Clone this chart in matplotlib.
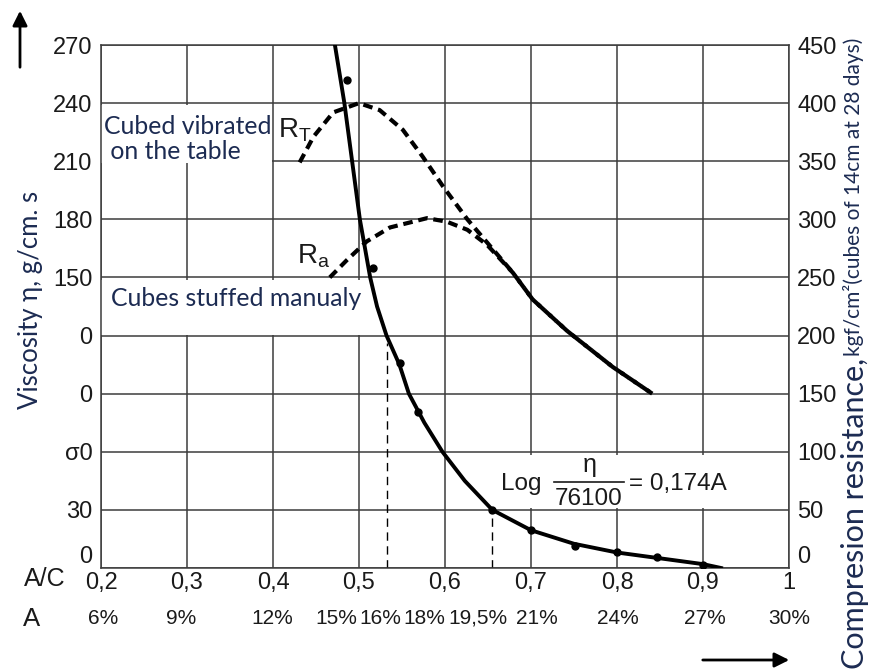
import matplotlib.pyplot as plt
from matplotlib.patches import Rectangle
from matplotlib.lines import Line2D

# viscosity curve (left axis, eta in g/cm.s) vs A/C
curve_ac = [0.472, 0.483, 0.492, 0.501, 0.507, 0.513, 0.521, 0.532, 0.547, 0.558,
            0.576, 0.597, 0.623, 0.655, 0.700, 0.750, 0.800, 0.850, 0.900, 0.921]
curve_eta = [270, 240, 210, 180, 165, 150, 135, 120, 105, 90,
             75, 60, 45, 30, 19.5, 12.5, 8, 5, 2, 0]

# measured points on the viscosity curve
pts_ac = [0.486, 0.516, 0.548, 0.569, 0.655, 0.700, 0.751, 0.800, 0.846, 0.900]
pts_eta = [252, 155, 106, 80.5, 30, 19.6, 11.4, 8.3, 5.7, 1.5]

# compression resistance (right axis, kgf/cm2)
rt_ac = [0.431, 0.447, 0.470, 0.500, 0.524, 0.551, 0.574, 0.598, 0.626,
         0.649, 0.679, 0.702, 0.742, 0.795, 0.841]
rt_val = [349, 371, 392, 400, 394, 377, 354, 328, 300,
          280, 254, 231, 204, 173, 150]
ra_ac = [0.466, 0.486, 0.509, 0.536, 0.579, 0.602, 0.626, 0.649, 0.679,
         0.702, 0.742, 0.795, 0.841]
ra_val = [250, 265, 281, 293, 301, 298, 291, 278, 254,
          231, 204, 173, 150]

# reference dashed drops
drop_ac = [0.533, 0.655]
drop_eta = [116, 30]

x_ticks = [0.2, 0.3, 0.4, 0.5, 0.6, 0.7, 0.8, 0.9, 1.0]
x_labels = ["0,2", "0,3", "0,4", "0,5", "0,6", "0,7", "0,8", "0,9", "1"]
left_ticks = [0, 30, 60, 90, 120, 150, 180, 210, 240, 270]
left_labels = ["0", "30", "σ0", "0", "0", "150", "180", "210", "240", "270"]
right_ticks = [0, 50, 100, 150, 200, 250, 300, 350, 400, 450]
a_pos = [0.202, 0.293, 0.399, 0.474, 0.525, 0.576, 0.638, 0.707, 0.801, 0.902, 1.0]
a_labels = ["6%", "9%", "12%", "15%", "16%", "18%", "19,5%", "21%", "24%", "27%", "30%"]

plt.rcParams['font.family'] = ['Liberation Sans', 'DejaVu Sans']
plt.rcParams['mathtext.fontset'] = 'custom'
plt.rcParams['mathtext.rm'] = 'Liberation Sans'
plt.rcParams['mathtext.it'] = 'Liberation Sans'

W, H = 870, 671
fig = plt.figure(figsize=(W / 100, H / 100), dpi=100)
ax = fig.add_axes([101 / W, 1 - 568 / H, 688 / W, 523 / H])
ax.set_xlim(0.2, 1.0)
ax.set_ylim(0, 270)
ax.set_axisbelow(True)

grid_c = '#3c3c3c'
ax.grid(color=grid_c, lw=1.1)
for s in ax.spines.values():
    s.set_color(grid_c)
    s.set_linewidth(1.1)

tick_c = '#1a1a1a'
ax.set_xticks(x_ticks, x_labels)
ax.set_yticks(left_ticks, left_labels)
ax.tick_params(axis='both', length=0, labelsize=17, colors=tick_c)
ax.tick_params(axis='y', pad=6)
ax.tick_params(axis='x', pad=3)
ax.get_yticklabels()[0].set_verticalalignment('bottom')

ax2 = ax.twinx()
ax2.set_ylim(0, 450)
ax2.set_yticks(right_ticks)
ax2.tick_params(length=0, labelsize=17, colors=tick_c, pad=6)
ax2.get_yticklabels()[0].set_verticalalignment('bottom')
for s in ax2.spines.values():
    s.set_visible(False)

# white patches behind the annotation texts
box_kw = dict(transform=ax.transAxes, facecolor='white', edgecolor='none', zorder=1.5)
ax.add_patch(Rectangle((0.0, 0.774), 0.249, 0.112, **box_kw))
ax.add_patch(Rectangle((0.0, 0.446), 0.385, 0.105, **box_kw))
ax.add_patch(Rectangle((0.573, 0.115), 0.414, 0.101, **box_kw))

# viscosity curve
ax.plot(curve_ac, curve_eta, color='black', lw=2.8, zorder=3, solid_joinstyle='round')
ax.plot(pts_ac, pts_eta, 'o', color='black', ms=5, zorder=3)
ax.vlines(drop_ac, 0, drop_eta, colors='black', lw=1.0, linestyles=(0, (6, 4)), zorder=2)

# strength curves
l1, = ax2.plot(rt_ac, rt_val, color='black', lw=3, zorder=3)
l1.set_dashes((2.3, 1.4))
l2, = ax2.plot(ra_ac, ra_val, color='black', lw=3, zorder=3)
l2.set_dashes((2.3, 1.4))

def px(x, y):
    return x / W, 1 - y / H

note_c = '#1c2b52'
note_font = ['Lato', 'DejaVu Sans']
fig.text(*px(104, 139), "Cubed vibrated\n on the table", fontsize=17.8,
         family=note_font, color=note_c, ha='left', va='center', linespacing=1.15)
fig.text(*px(111, 299), "Cubes stuffed manualy", fontsize=17.8,
         family=note_font, color=note_c, ha='left', va='center')

fig.text(*px(278, 130), r"$\mathrm{R_T}$", fontsize=20, color='#1a1a1a', ha='left', va='center')
fig.text(*px(297, 256), r"$\mathrm{R_a}$", fontsize=20, color='#1a1a1a', ha='left', va='center')

# formula
fig.text(*px(501, 484), "Log", fontsize=17.5, color=tick_c, ha='left', va='center')
fig.text(*px(590, 465), "η", fontsize=18, color=tick_c, ha='center', va='center')
fig.text(*px(589, 499), "76100", fontsize=17.5, color=tick_c, ha='center', va='center')
fig.add_artist(Line2D([554 / W, 624 / W], [1 - 482 / H, 1 - 482 / H], color=tick_c, lw=1.2))
fig.text(*px(629, 484), "= 0,174A", fontsize=17.5, color=tick_c, ha='left', va='center')

# axis labels
fig.text(*px(31, 300), "Viscosity η, g/cm. s", fontsize=18.5, rotation=90,
         family=note_font, color=note_c, ha='center', va='center')
fig.text(*px(855, 669), "Compresion resistance,", fontsize=22, rotation=90,
         family=note_font, color=note_c, ha='center', va='bottom')
fig.text(*px(854, 356), "kgf/cm²(cubes of 14cm at 28 days)", fontsize=15, rotation=90,
         family=note_font, color=note_c, ha='center', va='bottom')

# A/C and A rows
fig.text(*px(45, 579), "A/C", fontsize=18, color=tick_c, ha='center', va='center')
fig.text(*px(32, 619), "A", fontsize=18.5, color=tick_c, ha='center', va='center')
sec = ax.secondary_xaxis(-0.078)
sec.set_xticks(a_pos, a_labels)
sec.tick_params(length=0, pad=0, labelsize=15, colors=tick_c)
sec.spines['bottom'].set_visible(False)

# direction arrows
fig.add_artist(plt.Annotation('', xy=px(20, 8), xytext=px(20, 70), xycoords='figure fraction',
                              arrowprops=dict(arrowstyle='-|>', color='black', lw=2, mutation_scale=22)))
fig.add_artist(plt.Annotation('', xy=px(792, 660), xytext=px(700, 660), xycoords='figure fraction',
                              arrowprops=dict(arrowstyle='-|>', color='black', lw=2, mutation_scale=22)))

fig.savefig("out.png", dpi=100, facecolor='white')
